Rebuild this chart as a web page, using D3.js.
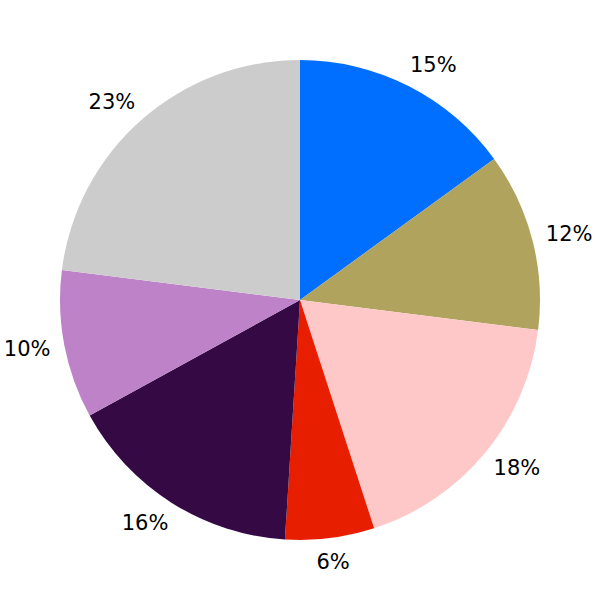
<!DOCTYPE html>
<html><head><meta charset="utf-8">
<script src="https://cdn.jsdelivr.net/npm/d3@7"></script>
<style>body{margin:0;background:#fff}svg{display:block}</style>
</head><body>
<svg id="c" width="600" height="600"></svg>
<script>
const labels = ["15%","12%","18%","6%","16%","10%","23%"];
const values = [15,12,18,6,16,10,23];
const colors = ["#006eff","#b0a35e","#ffc8c8","#e81e00","#350a44","#be82c8","#cccccc"];

const svg = d3.select("#c");
const cx = 300, cy = 300, r = 240, lr = 264;
const g = svg.append("g").attr("transform", `translate(${cx},${cy})`);
const pie = d3.pie().sort(null).value(d => d)(values);
const arc = d3.arc().innerRadius(0).outerRadius(r);
g.selectAll("path").data(pie).enter().append("path")
  .attr("d", arc).attr("fill", (d,i) => colors[i]);
function mid(d){ return (d.startAngle + d.endAngle)/2; }
g.selectAll("text").data(pie).enter().append("text")
  .attr("x", d => { const s = Math.sin(mid(d)); return lr * s + (Math.abs(s) < 0.2 ? 0 : 13.5 * Math.sign(s)); })
  .attr("y", d => -lr * Math.cos(mid(d)))
  .attr("text-anchor", "middle").attr("dominant-baseline", "central")
  .attr("font-family", "DejaVu Sans").attr("font-size", 21).attr("fill", "#000")
  .text((d,i) => labels[i]);
</script>
</body></html>
